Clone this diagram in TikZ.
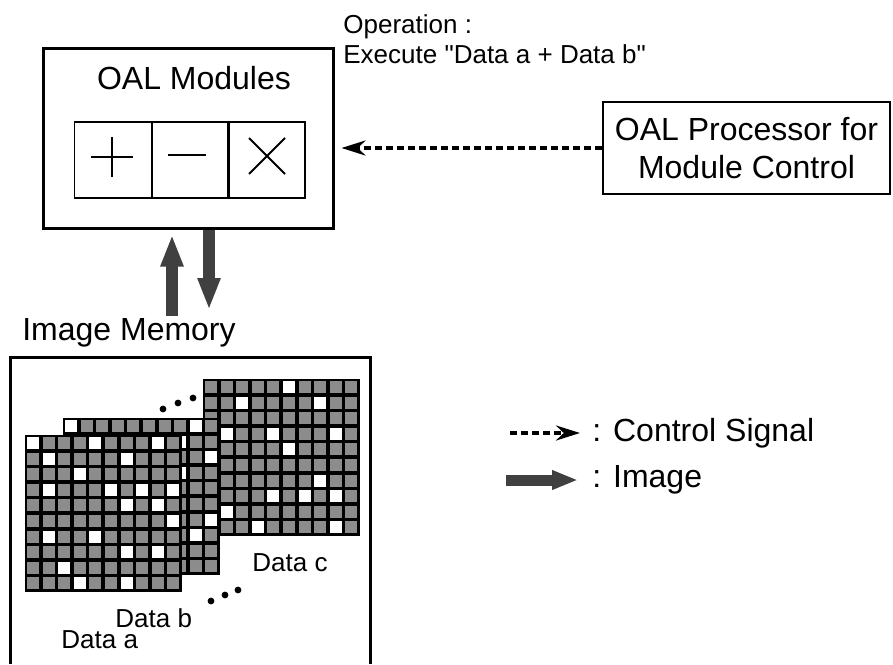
\documentclass[tikz,border=0pt]{standalone}
\usepackage{fontspec}
\setmainfont{Liberation Sans}
\usetikzlibrary{arrows.meta, positioning}

\newcommand{\bigtext}{\fontsize{16}{19}\selectfont}
\newcommand{\smalltext}{\fontsize{13}{16}\selectfont}

% one image plane: black 10x10 grid, grey pixels, a few white pixels
\newcommand{\plane}[3]{%
  \fill[black] (#1,#2) rectangle ++(157,157);
  \foreach \cc in {0,...,9}
    \foreach \rr in {0,...,9}
      \fill[cell] ({#1+\cc*15.6+2},{#2+\rr*15.6+2}) rectangle ++(12,12);
  \foreach \cc/\rr in {#3}
    \fill[white] ({#1+\cc*15.6+2},{#2+\rr*15.6+2}) rectangle ++(12,12);
}

\begin{document}
\begin{tikzpicture}[x=0.5pt, y=-0.5pt]
	\tikzstyle{modbox}=[draw, line width=1.5pt, minimum width=145pt, minimum height=90pt, inner sep=0pt]
	\tikzstyle{opbox}=[draw, line width=0.8pt, minimum width=38.5pt, minimum height=38pt, inner sep=0pt]
	\tikzstyle{procbox}=[draw, line width=0.8pt, minimum width=143.5pt, minimum height=46pt, align=center, font=\bigtext]
	\tikzstyle{sym}=[line width=1pt]
	\tikzstyle{cell}=[fill=black!45]
	\tikzstyle{ctrl}=[line width=1.7pt, dash pattern=on 3.5pt off 2pt, -{Stealth[length=12pt, width=7.5pt]}]
	\tikzstyle{imgarrow}=[draw=black!75, line width=6pt, -{Triangle[length=16pt, width=10.5pt]}]
	\tikzstyle{label}=[anchor=base west, inner sep=0pt, font=\smalltext]

	\fill[white] (0,0) rectangle (893,664);
	\useasboundingbox (0,0) rectangle (893,664);

	% module box with the three operators
	\node[modbox] (mod) at (188,138) {};
	\node[anchor=base, inner sep=0pt, font=\bigtext] (modtitle) at (194,89) {OAL Modules};
	\node[opbox] (add) at (113,160) {};
	\node[opbox] (sub) at (190.5,160) {};
	\node[opbox] (mul) at (266.5,160) {};
	\draw[sym] (112,157) +(-21,0) -- +(21,0) +(0,-20) -- +(0,20);
	\draw[sym] (187,155) +(-19,0) -- +(19,0);
	\draw[sym] (267,156) +(-18,-18) -- +(18,18) +(-18,18) -- +(18,-18);

	% processor
	\node[procbox] (proc) at (746.5,148) {OAL Processor for\\Module Control};
	\node[label] (optitle) at (343,33) {Operation :};
	\node[label] (opexec) at (343,63) {Execute \textquotedbl Data a + Data b\textquotedbl};
	\draw[ctrl, shorten >=3.5pt] (proc.west) -- (proc.west -| mod.east);

	% image transfer between modules and memory
	\coordinate (upfoot) at (172,316);
	\coordinate (downfoot) at (209,310);
	\draw[imgarrow, shorten >=2.5pt] (upfoot) -- (upfoot |- mod.south);
	\draw[imgarrow] (downfoot |- mod.south) -- (downfoot);

	% image memory
	\node[anchor=base, inner sep=0pt, font=\bigtext] (memtitle) at (129,340) {Image Memory};
	\draw[line width=1.5pt] (10,664) -- (10,357) -- (370,357) -- (370,664);

	\plane{203}{379}{5/0, 2/1, 7/1, 1/3, 4/3, 8/3, 5/4, 7/6, 4/7, 6/7, 8/7, 1/8, 3/9, 8/9}
	\plane{63}{418}{0/0, 8/0, 7/1, 9/2, 7/3, 9/6, 8/7, 3/4, 5/8}
	\plane{25}{435}{0/0, 4/0, 8/0, 1/1, 6/1, 3/2, 1/3, 5/3, 7/3, 9/3, 6/4, 8/4, 9/5, 1/6, 4/6, 6/7, 8/7, 2/8, 3/9, 6/9}

	\foreach \px/\py in {163/409, 178/403, 193/398, 211/601, 225/595, 238/590}
		\fill (\px,\py) circle[radius=1.7pt];

	\node[label] (datac) at (252,571) {Data c};
	\node[label] (datab) at (115,627) {Data b};
	\node[label] (dataa) at (61,648) {Data a};

	% legend
	\coordinate (ctlfrom) at (510,433);
	\coordinate (ctlto) at (580,433);
	\draw[ctrl] (ctlfrom) -- (ctlto);
	\node[anchor=west, inner sep=0pt, font=\bigtext] (ctltext) at (592,433) {: Control Signal};
	\coordinate (imgfrom) at (506,480);
	\coordinate (imgto) at (578,480);
	\draw[imgarrow, line width=5.5pt, -{Triangle[length=13pt, width=9pt]}] (imgfrom) -- (imgto);
	\node[anchor=west, inner sep=0pt, font=\bigtext] (imgtext) at (592,480) {: Image};
\end{tikzpicture}
\end{document}
